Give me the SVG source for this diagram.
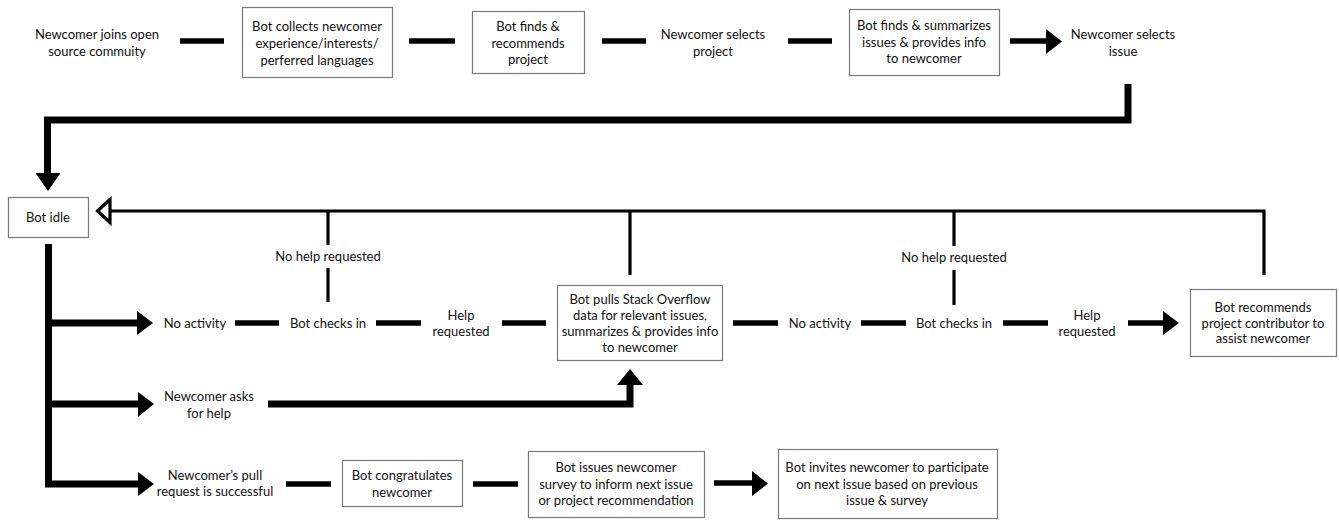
<svg xmlns="http://www.w3.org/2000/svg" width="1339" height="521" viewBox="0 0 1339 521">
<style>
text{font-family:Lato,"Open Sans",sans-serif;font-size:13px;fill:#111;text-anchor:middle}
.box{fill:#fff;stroke:#7a7a7a;stroke-width:1.2}
.thick{stroke:#000;stroke-width:7;fill:none}
.dash{stroke:#000;stroke-width:5.5;fill:none}
.thin{stroke:#000;stroke-width:3.2;fill:none}
.head{fill:#000}
</style>
<rect width="1339" height="521" fill="#fff"/>
<g id="connectors">
<line class="dash" x1="180" y1="41" x2="224" y2="41"/>
<line class="dash" x1="409" y1="41" x2="455" y2="41"/>
<line class="dash" x1="602" y1="41" x2="646" y2="41"/>
<line class="dash" x1="788" y1="41" x2="832" y2="41"/>
<line class="dash" x1="1010" y1="41" x2="1047" y2="41"/>
<polygon class="head" points="1046,29 1062,41.5 1046,54"/>
<path class="thick" d="M1128,84 V120 H47.5 V174"/>
<polygon class="head" points="35.5,173 60.5,173 48,191"/>
<path class="thin" d="M110,211 H1264 V275"/>
<polygon points="97.5,211 110,199.5 110,222.5" fill="#fff" stroke="#000" stroke-width="3.2"/>
<line class="thin" x1="328" y1="211" x2="328" y2="245"/>
<line class="thin" x1="328" y1="268" x2="328" y2="302"/>
<line class="thin" x1="630" y1="211" x2="630" y2="275"/>
<line class="thin" x1="954" y1="211" x2="954" y2="246"/>
<line class="thin" x1="954" y1="270" x2="954" y2="305"/>
<path class="thick" d="M48.5,244 V484 H138"/>
<line class="thick" x1="48" y1="323" x2="138" y2="323"/>
<line class="thick" x1="48" y1="404" x2="139" y2="404"/>
<polygon class="head" points="137,311 153,323 137,335"/>
<polygon class="head" points="138,392 154,404 138,417"/>
<polygon class="head" points="138,472 154,484 138,496"/>
<line class="dash" x1="235" y1="323" x2="279" y2="323"/>
<line class="dash" x1="376" y1="323" x2="421" y2="323"/>
<line class="dash" x1="502" y1="323" x2="546" y2="323"/>
<line class="dash" x1="733" y1="323" x2="778" y2="323"/>
<line class="dash" x1="861" y1="323" x2="906" y2="323"/>
<line class="dash" x1="1003" y1="323" x2="1048" y2="323"/>
<line class="dash" x1="1128" y1="323" x2="1164" y2="323"/>
<polygon class="head" points="1163,311 1179,323 1163,335"/>
<path class="thick" d="M268,404 H630 V384"/>
<polygon class="head" points="617,385 630,369 643,385"/>
<line class="dash" x1="286" y1="484" x2="331" y2="484"/>
<line class="dash" x1="473" y1="484" x2="518" y2="484"/>
<line class="dash" x1="714" y1="483" x2="753" y2="483"/>
<polygon class="head" points="752,471 768,483.5 752,496"/>
</g>
<g id="n-join"><text x="97" y="38.5">Newcomer joins open</text><text x="97" y="55.5">source commuity</text></g>
<g id="n-collect"><rect class="box" x="242.5" y="7.5" width="150" height="70"/><text x="317" y="30.5">Bot collects newcomer</text><text x="317" y="47.5">experience/interests/</text><text x="317" y="64.5">perferred languages</text></g>
<g id="n-recommend"><rect class="box" x="472.5" y="11.5" width="112" height="62"/><text x="528" y="30.5">Bot finds &amp;</text><text x="528" y="47.5">recommends</text><text x="528" y="64">project</text></g>
<g id="n-selproj"><text x="713" y="38.5">Newcomer selects</text><text x="713" y="55.5">project</text></g>
<g id="n-summ"><rect class="box" x="849.5" y="9.5" width="150" height="66"/><text x="924" y="29.5">Bot finds &amp; summarizes</text><text x="924" y="46.5">issues &amp; provides info</text><text x="924" y="62.5">to newcomer</text></g>
<g id="n-selissue"><text x="1123" y="38.5">Newcomer selects</text><text x="1123" y="55.5">issue</text></g>
<g id="n-idle"><rect class="box" x="8.5" y="197.5" width="80" height="40"/><text x="48" y="221.5">Bot idle</text></g>
<g id="n-noact1"><text x="195" y="327.5">No activity</text></g>
<g id="n-check1"><text x="328" y="327.5">Bot checks in</text></g>
<g id="n-nohelp1"><text x="328" y="260.5">No help requested</text></g>
<g id="n-help1"><text x="461" y="319.5">Help</text><text x="461" y="335.5">requested</text></g>
<g id="n-so"><rect class="box" x="557.5" y="285.5" width="165" height="75"/><text x="640" y="303.5">Bot pulls Stack Overflow</text><text x="640" y="319.5">data for relevant issues,</text><text x="640" y="335.5">summarizes &amp; provides info</text><text x="640" y="351.5">to newcomer</text></g>
<g id="n-noact2"><text x="820" y="327.5">No activity</text></g>
<g id="n-check2"><text x="954" y="327.5">Bot checks in</text></g>
<g id="n-nohelp2"><text x="954" y="261.5">No help requested</text></g>
<g id="n-help2"><text x="1087" y="319.5">Help</text><text x="1087" y="335.5">requested</text></g>
<g id="n-contrib"><rect class="box" x="1190.5" y="289.5" width="146" height="67"/><text x="1263" y="311.5">Bot recommends</text><text x="1263" y="327.5">project contributor to</text><text x="1263" y="343">assist newcomer</text></g>
<g id="n-ask"><text x="209" y="400.5">Newcomer asks</text><text x="209" y="417.5">for help</text></g>
<g id="n-pr"><text x="215" y="479.5">Newcomer’s pull</text><text x="215" y="495.5">request is successful</text></g>
<g id="n-congrats"><rect class="box" x="342.5" y="460.5" width="120" height="46"/><text x="402" y="479.5">Bot congratulates</text><text x="402" y="496.5">newcomer</text></g>
<g id="n-survey"><rect class="box" x="528.5" y="451.5" width="176" height="66"/><text x="616" y="471.5">Bot issues newcomer</text><text x="616" y="488.5">survey to inform next issue</text><text x="616" y="504.5">or project recommendation</text></g>
<g id="n-invite"><rect class="box" x="778.5" y="449.5" width="219" height="69"/><text x="887" y="471.5">Bot invites newcomer to participate</text><text x="887" y="488.5">on next issue based on previous</text><text x="887" y="504.5">issue &amp; survey</text></g>
</svg>
